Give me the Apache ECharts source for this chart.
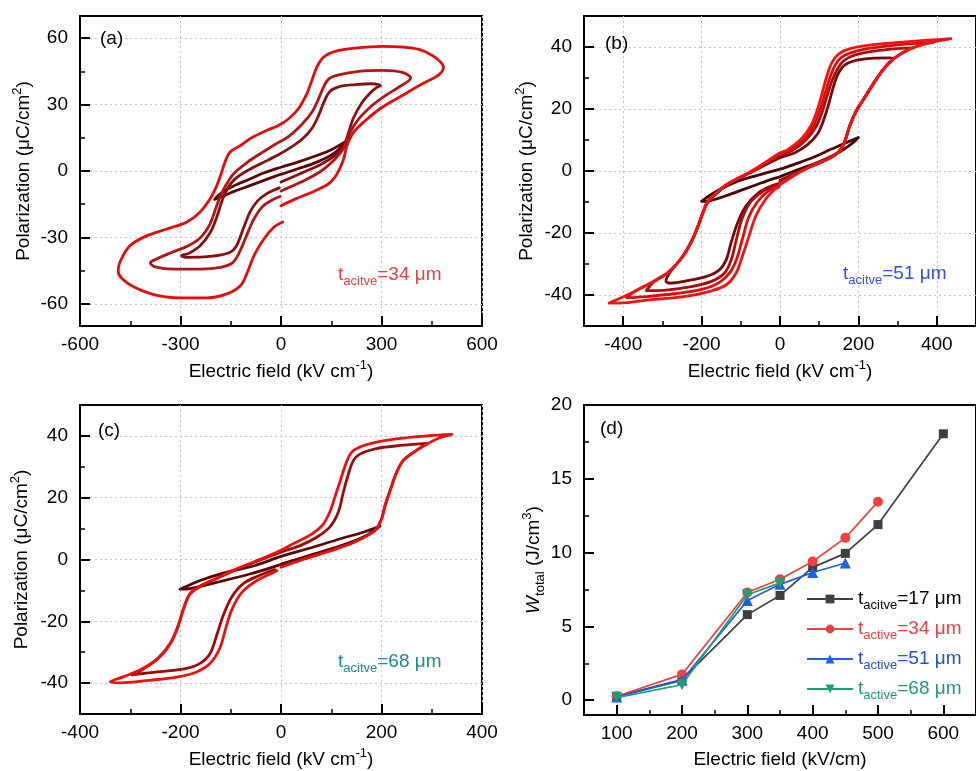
<!DOCTYPE html>
<html>
<head>
<meta charset="utf-8">
<title>P–E loops and energy density</title>
<script src="https://cdn.jsdelivr.net/npm/echarts@6/dist/echarts.min.js"></script>
<style>
  html, body { margin: 0; padding: 0; background: #fff; }
  #chart { width: 976px; height: 771px; }
</style>
</head>
<body>
<div id="chart"></div>
<script>
// ---------- (a) P–E loops, 34 µm active layer ----------
const loopA200 = [
  [0,-1.5],[50,1.0],[107,4.0],[160,8.2],[197,13.7],
  [150,9.6],[107,7.0],[50,4.0],[0,1.7],[-50,-0.8],[-93,-3.6],[-135,-6.3],[-165,-8.6],[-185,-10.8],[-198,-12.8],
  [-183,-12.0],[-140,-9.2],[-93,-6.6],[-45,-3.9],[-3,-1.6]
];
const loopA300 = [
  [0,-5],[60,-1],[120,3],[165,7.5],[188,11.5],[200,16.5],[215,23.5],[240,30.5],[265,35],[285,37.6],[297,38.6],
  [272,39.4],[222,39],[172,38],[145,35.8],[128,31],[112,25],[92,19.2],[62,14.2],[22,10],[0,8],[-40,4.8],[-100,0.2],[-140,-4],[-160,-8],[-175,-13],[-190,-20],[-210,-27.5],[-240,-33.5],[-275,-37.2],[-297,-38.3],
  [-283,-39],[-203,-38.4],[-153,-36.8],[-133,-33.8],[-113,-26.2],[-93,-18.7],[-70,-13.5],[-40,-10],[-5,-7.6]
];
const loopA390 = [
  [0,-9],[60,-5],[120,0],[165,6],[190,11],[207,17.5],[232,23.5],[272,29.6],[312,34.1],[352,37.9],[387,42],
  [362,44.5],[302,45.4],[232,45],[172,43.4],[142,41.5],[127,37.9],[112,32.6],[92,26.5],[62,21],[22,15.5],[-18,12],[-60,8],[-100,4],[-140,-1],[-163,-6],[-180,-11],[-195,-17],[-212,-24],[-240,-30],[-280,-34],[-330,-37],[-375,-40],[-390,-41.5],
  [-375,-43.3],[-320,-44.3],[-240,-44.3],[-180,-43.5],[-145,-41.5],[-125,-37],[-105,-30],[-82,-22],[-55,-16],[-25,-13],[-3,-11.5]
];
const loopA485 = [
  [0,-15.7],[42,-12.7],[102,-8.9],[140,-6],[160,-3],[175,1],[187,5.4],[197,11.5],[217,17.5],[252,22.8],[302,28.8],[362,34.1],[422,39.4],[462,42.5],[480,44.8],
  [485,46.8],[476,49.3],[452,52.2],[412,54.9],[362,56],[302,56.3],[222,55.5],[162,54],[127,51.4],[107,46.9],[92,40.9],[77,34.8],[52,28.1],[22,23.5],[-8,20.5],[-40,18.5],[-90,14.8],[-122,11.4],[-152,8.6],[-167,4.1],[-177,-0.5],[-192,-6.7],[-212,-12.7],[-242,-18.6],[-281,-23],[-341,-26.2],[-401,-29.3],[-451,-33.8],[-481,-41.2],[-486,-45.5],
  [-475,-48.5],[-440,-52.3],[-380,-55.8],[-300,-57.3],[-220,-57.3],[-160,-55.4],[-120,-51.6],[-100,-45.6],[-80,-38],[-50,-30.5],[-20,-25.2],[5,-23]
];

// ---------- (b) P–E loops, 51 µm active layer ----------
const loopB200 = [
  [0,-1.8],[50,0.6],[100,3],[150,6],[185,9],[200,10.8],
  [170,9.2],[130,7],[87,4.5],[40,2.3],[0,0.6],[-60,-1.5],[-112,-3.5],[-162,-6.5],[-190,-8.8],[-200,-9.8],
  [-179,-9.6],[-129,-7.6],[-62,-4.5],[-20,-2.6],[-2,-2]
];
const loopB290 = [
  [0,-3],[62,0.5],[137,4.9],[160,8],[178,14.6],[195,19.5],[215,23.5],[240,28.5],[265,33],[291,36.4],
  [278,36.5],[212,36.1],[170,34.6],[150,31.8],[137,27.5],[125,22],[112,16.7],[96,12],[71,8.6],[38,5.9],[0,4.3],[-70,-0.2],[-137,-4.6],[-165,-7.6],[-185,-10.2],[-197,-13.7],[-210,-18.2],[-225,-22.6],[-248,-27.6],[-278,-32.2],[-291,-35.5],
  [-280,-36.2],[-245,-35.6],[-187,-34],[-154,-31.8],[-137,-28.6],[-125,-23.2],[-108,-16.7],[-87,-11.3],[-54,-7],[-21,-4.8],[-3,-4.1]
];
const loopB340 = [
  [0,-3.5],[62,0.5],[137,4.9],[160,8],[178,14.6],[195,19.5],[215,23.5],[240,28.5],[265,33],[291,36.3],[330,39.3],[341,39.7],
  [300,39.5],[240,38.7],[190,37.4],[163,35.6],[147,33],[134,29.5],[122,25],[110,20],[93,14.5],[66,10],[30,6.5],[0,5],[-70,0],[-137,-4.5],[-165,-7.5],[-185,-10],[-197,-13.5],[-210,-18],[-225,-22.5],[-248,-27.5],[-283,-32.5],[-320,-35.5],[-341,-38.6],
  [-290,-38.4],[-230,-37.4],[-175,-35.6],[-142,-33],[-124,-28.5],[-112,-22.5],[-97,-15.5],[-75,-10],[-45,-6.7],[-15,-4.8],[-3,-4.4]
];
const loopB390 = [
  [0,-4],[62,0.5],[137,4.9],[160,8],[178,14.6],[195,19.5],[215,23.5],[240,28.5],[265,33],[291,36.3],[330,39.3],[370,41],[391,41.5],
  [340,41.1],[280,40.4],[220,39.4],[180,38.1],[155,36.5],[140,34],[127,30],[115,25],[103,20],[86,14.6],[60,10.2],[25,6.8],[0,5.4],[-70,0],[-137,-4.5],[-165,-7.5],[-185,-10],[-197,-13.5],[-210,-18],[-225,-22.5],[-248,-27.5],[-283,-32.5],[-320,-35.5],[-370,-38.8],[-391,-40.9],
  [-340,-40.5],[-270,-39.6],[-200,-38.2],[-155,-36],[-128,-32.8],[-110,-28.2],[-96,-22],[-80,-15],[-58,-10],[-30,-6.5],[-3,-4.8]
];
const loopB435 = [
  [0,-4.5],[62,0.5],[137,4.9],[160,8],[178,14.6],[195,19.5],[215,23.5],[240,28.5],[265,33],[291,36.3],[330,39.3],[380,41.3],[415,42.2],[436,42.7],
  [378,42.2],[295,41.4],[228,40.6],[179,39.5],[150,37.8],[133,35.1],[120,30.8],[108,25.4],[96,20],[79,14.6],[54,10.3],[21,7],[0,5.8],[-70,0.2],[-137,-4.4],[-165,-7.4],[-185,-10],[-197,-13.5],[-210,-18],[-225,-22.5],[-248,-27.5],[-283,-32.5],[-320,-35.5],[-370,-38.8],[-411,-41.2],[-436,-42.6],
  [-411,-42.6],[-328,-41.5],[-245,-40.5],[-179,-38.8],[-137,-36.7],[-112,-32.9],[-96,-27.5],[-79,-21],[-62,-14.6],[-37,-9.2],[-13,-5.9],[-3,-5.2]
];

// ---------- (c) P–E loops, 68 µm active layer ----------
const loopC200 = [
  [0,-1.5],[60,1.5],[120,4.5],[170,7.8],[197,10.8],
  [165,8.9],[120,6.8],[60,3.8],[0,1],[-55,-2.1],[-108,-4.1],[-161,-6.8],[-190,-8.8],[-201,-9.6],
  [-181,-9.4],[-128,-7.4],[-62,-4.7],[-4,-1.8]
];
const loopC300 = [
  [0,-2],[44,0.2],[97,2.9],[144,5.6],[177,8.3],[190,9.9],[200,13.1],[207,17.4],[217,22.3],[230,28.2],[243,32],[263,34.6],[290,37.6],
  [243,37],[190,35.9],[157,34.1],[144,32],[134,27.6],[124,21.7],[114,15.3],[97,10.5],[71,7.2],[38,4.5],[0,2.4],[-50,-0.7],[-95,-3.7],[-130,-6.3],[-160,-8.6],[-181,-11.2],[-194,-16],[-205,-21.5],[-220,-27],[-245,-32],[-275,-35.5],[-297,-37.3],
  [-241,-36.3],[-188,-35.2],[-161,-33.6],[-141,-30.4],[-128,-24.5],[-115,-18.1],[-98,-12.1],[-75,-7.8],[-42,-5.1],[-12,-3.3]
];
const loopC340 = [
  [0,-2.5],[44,0],[97,2.7],[144,5.4],[177,8.2],[190,9.8],[200,13],[207,17.3],[217,22.2],[230,28.1],[243,32],[263,34.6],[290,37.3],[316,39.4],[340,40.5],
  [296,40.1],[243,39.3],[190,38],[157,36.4],[140,34.6],[130,31.4],[119,26],[107,20.1],[97,15.3],[82,11],[57,7.8],[24,5.1],[0,3],[-50,-0.5],[-95,-3.5],[-130,-6.2],[-160,-8.5],[-181,-11],[-194,-15.9],[-204,-21.3],[-218,-26.6],[-241,-31.5],[-274,-35.2],[-314,-38],[-340,-39.6],
  [-320,-39.9],[-261,-39.1],[-208,-38.1],[-168,-36.4],[-141,-33.6],[-122,-28.8],[-110,-22.3],[-97,-15.9],[-77,-10.5],[-48,-6.8],[-15,-4.2],[-8,-3.6]
];

// ---------- (d) total energy density vs field ----------
const fieldD = [100, 200, 300, 350, 400, 450, 500, 600];
const w17 = [0.27, 1.4, 5.8, 7.1, 9.0, 9.95, 11.9, 18.05];
const w34 = [0.27, 1.75, 7.3, 8.2, 9.4, 11.0, 13.45];
const w51 = [0.22, 1.35, 6.75, 7.85, 8.65, 9.3];
const w68 = [0.18, 1.05, 7.15, 7.95];
const thickLabels = [['acitve', '17'], ['active', '34'], ['active', '51'], ['active', '68']];

// tick values for each panel
const ticksA = { x: [-600, -300, 0, 300, 600], xMinor: [-450, -150, 150, 450], y: [-60, -30, 0, 30, 60], yMinor: [-45, -15, 15, 45] };
const ticksB = { x: [-400, -200, 0, 200, 400], xMinor: [-300, -100, 100, 300], y: [-40, -20, 0, 20, 40], yMinor: [-30, -10, 10, 30] };
const ticksC = { x: [-400, -200, 0, 200, 400], xMinor: [-300, -100, 100, 300], y: [-40, -20, 0, 20, 40], yMinor: [-30, -10, 10, 30] };
const ticksD = { x: [100, 200, 300, 400, 500, 600], xMinor: [150, 250, 350, 450, 550], y: [0, 5, 10, 15, 20], yMinor: [2.5, 7.5, 12.5, 17.5] };

const FONT = '"Liberation Sans", Arial, Helvetica, sans-serif';

const nameRich = {
  n:   { fontSize: 19, fontFamily: FONT, color: '#000', lineHeight: 26, verticalAlign: 'middle' },
  it:  { fontSize: 19, fontFamily: FONT, color: '#000', lineHeight: 26, verticalAlign: 'middle', fontStyle: 'italic' },
  sup: { fontSize: 13, fontFamily: FONT, color: '#000', lineHeight: 13, verticalAlign: 'top' },
  sub: { fontSize: 13, fontFamily: FONT, color: '#000', lineHeight: 13, verticalAlign: 'bottom' }
};

const grids = [
  { left: 80,  top: 16,  width: 402, height: 310 },
  { left: 584, top: 16,  width: 401, height: 310 },
  { left: 80,  top: 405, width: 402, height: 309 },
  { left: 584, top: 405, width: 401, height: 310 }
].map(g => Object.assign({ show: true, borderColor: '#000', borderWidth: 2, backgroundColor: 'transparent' }, g));

function mainAxis(dim, gi, min, max, ticks, opts) {
  const isX = dim === 'x';
  return {
    type: 'value', gridIndex: gi, min: min, max: max,
    position: isX ? 'bottom' : 'left',
    axisLine: { show: true, onZero: false, lineStyle: { color: '#000', width: 2 } },
    axisTick: { show: true, inside: true, length: 10, customValues: ticks, lineStyle: { color: '#000', width: 2 } },
    axisLabel: { customValues: ticks, fontSize: 19, fontFamily: FONT, color: '#000', margin: isX ? 9 : 12 },
    splitLine: { show: opts.grid, lineStyle: { color: '#c2c2c2', type: [2, 3], width: 1 } },
    name: opts.name, nameLocation: 'middle', nameGap: opts.gap,
    nameTextStyle: { fontSize: 19, fontFamily: FONT, color: '#000', rich: nameRich }
  };
}
function minorAxis(dim, gi, min, max, ticks) {
  const isX = dim === 'x';
  return {
    type: 'value', gridIndex: gi, min: min, max: max,
    position: isX ? 'bottom' : 'left',
    axisLine: { show: false, onZero: false },
    axisTick: { show: true, inside: true, length: 5, customValues: ticks, lineStyle: { color: '#000', width: 1.5 } },
    axisLabel: { show: false },
    splitLine: { show: false }
  };
}

const xNameKV = '{n|Electric field (kV cm}{sup|-1}{n|)}';
const yNameP = '{n|Polarization (μC/cm}{sup|2}{n|)}';

const xAxes = [
  mainAxis('x', 0, -600, 600, ticksA.x, { grid: true, name: xNameKV, gap: 33 }), minorAxis('x', 0, -600, 600, ticksA.xMinor),
  mainAxis('x', 1, -500, 500, ticksB.x, { grid: true, name: xNameKV, gap: 33 }), minorAxis('x', 1, -500, 500, ticksB.xMinor),
  mainAxis('x', 2, -400, 400, ticksC.x, { grid: true, name: xNameKV, gap: 33 }), minorAxis('x', 2, -400, 400, ticksC.xMinor),
  mainAxis('x', 3, 50, 650, ticksD.x, { grid: false, name: '{n|Electric field (kV/cm)}', gap: 32 }), minorAxis('x', 3, 50, 650, ticksD.xMinor)
];
const yAxes = [
  mainAxis('y', 0, -70, 70, ticksA.y, { grid: true, name: yNameP, gap: 43 }), minorAxis('y', 0, -70, 70, ticksA.yMinor),
  mainAxis('y', 1, -50, 50, ticksB.y, { grid: true, name: yNameP, gap: 44 }), minorAxis('y', 1, -50, 50, ticksB.yMinor),
  mainAxis('y', 2, -50, 50, ticksC.y, { grid: true, name: yNameP, gap: 45 }), minorAxis('y', 2, -50, 50, ticksC.yMinor),
  mainAxis('y', 3, -1, 20, ticksD.y, { grid: false, name: '{it|W}{sub|total}{n| (J/cm}{sup|3}{n|)}', gap: 35 }), minorAxis('y', 3, -1, 20, ticksD.yMinor)
];

function loopSeries(data, color, panel, z) {
  return {
    type: 'line', data: data, xAxisIndex: panel * 2, yAxisIndex: panel * 2,
    symbol: 'none', showSymbol: false, smooth: 0.35, silent: true, z: z,
    lineStyle: { color: color, width: 2.8, cap: 'round', join: 'round' }
  };
}

const series = [
  loopSeries(loopA200, '#5a0606', 0, 2),
  loopSeries(loopA300, '#851010', 0, 3),
  loopSeries(loopA390, '#b01616', 0, 4),
  loopSeries(loopA485, '#e30b0b', 0, 5),

  loopSeries(loopB200, '#4a0404', 1, 2),
  loopSeries(loopB290, '#760808', 1, 3),
  loopSeries(loopB340, '#ad0c0c', 1, 4),
  loopSeries(loopB390, '#d80e0e', 1, 5),
  loopSeries(loopB435, '#f21212', 1, 6),

  loopSeries(loopC200, '#5a0606', 2, 2),
  loopSeries(loopC300, '#9a0a0a', 2, 3),
  loopSeries(loopC340, '#ee0e0e', 2, 4)
];

const dStyles = [
  { color: '#3f3f3f', symbol: 'rect', size: 9, text: '#000' },
  { color: '#f04040', symbol: 'circle', size: 10, text: '#f03c3c' },
  { color: '#1f5ee6', symbol: 'triangle', size: 11, text: '#1f4fe6' },
  { color: '#1f9e6e', symbol: 'path://M0,0 L10,0 L5,9 Z', size: 11, text: '#1e9a78' }
];
const dValues = [w17, w34, w51, w68];
const dNames = thickLabels.map(l => 't_' + l[0] + '=' + l[1] + ' μm');

dValues.forEach((vals, i) => {
  series.push({
    type: 'line', name: dNames[i], xAxisIndex: 6, yAxisIndex: 6,
    data: vals.map((v, k) => [fieldD[k], v]),
    symbol: dStyles[i].symbol, symbolSize: dStyles[i].size, showSymbol: true, z: 10 + i,
    lineStyle: { color: dStyles[i].color, width: 1.7 },
    itemStyle: { color: dStyles[i].color }
  });
});

const legendCenters = [595, 625, 655, 685];
const legends = dNames.map((nm, i) => ({
  data: [nm], left: 806, top: legendCenters[i] - 5.5, padding: 0, itemGap: 0,
  itemWidth: 46, itemHeight: 11, selectedMode: false,
  formatter: () => '{t|t}{s|' + thickLabels[i][0] + '}{t|=' + thickLabels[i][1] + ' μm}',
  textStyle: {
    color: dStyles[i].text,
    rich: {
      t: { fontSize: 19, fontFamily: FONT, color: dStyles[i].text, lineHeight: 26, verticalAlign: 'middle' },
      s: { fontSize: 13, fontFamily: FONT, color: dStyles[i].text, lineHeight: 13, verticalAlign: 'bottom' }
    }
  }
}));

function panelTag(txt, x, y) {
  return { type: 'text', x: x, y: y, z: 20,
    style: { text: txt, fontSize: 19, fontFamily: FONT, fill: '#000', verticalAlign: 'middle' } };
}
function thickNote(sub, val, color, x, y) {
  return { type: 'text', x: x, y: y, z: 20,
    style: {
      text: '{t|t}{s|' + sub + '}{t|=' + val + ' μm}', verticalAlign: 'middle',
      rich: {
        t: { fontSize: 19, fontFamily: FONT, fill: color, lineHeight: 26, verticalAlign: 'middle' },
        s: { fontSize: 13, fontFamily: FONT, fill: color, lineHeight: 13, verticalAlign: 'bottom' }
      }
    } };
}

const chart = echarts.init(document.getElementById('chart'), null, { renderer: 'canvas' });
chart.setOption({
  backgroundColor: '#fff',
  animation: false,
  grid: grids,
  xAxis: xAxes,
  yAxis: yAxes,
  legend: legends,
  series: series,
  graphic: [
    panelTag('(a)', 100, 39),
    panelTag('(b)', 605, 44),
    panelTag('(c)', 98, 431),
    panelTag('(d)', 600, 429),
    thickNote('acitve', '34', '#ee3b3b', 338, 275),
    thickNote('acitve', '51', '#2d50ea', 843, 274),
    thickNote('acitve', '68', '#178f8a', 338, 662)
  ]
});
</script>
</body>
</html>
